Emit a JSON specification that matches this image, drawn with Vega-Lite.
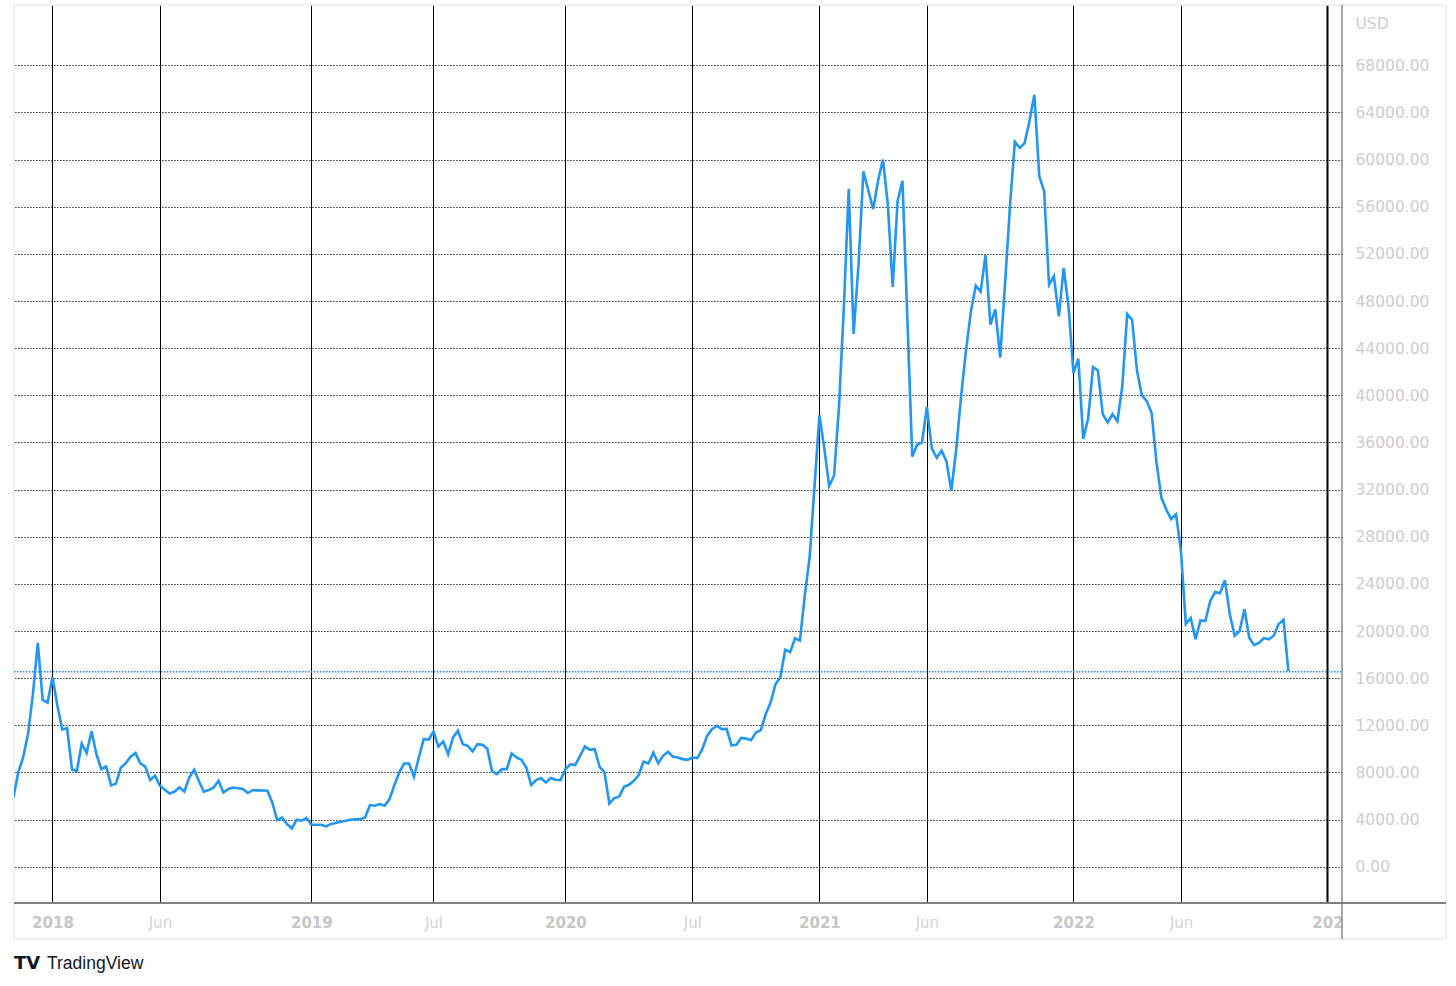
{
 "$schema": "https://vega.github.io/schema/vega-lite/v6.json",
 "width": 1328,
 "height": 898,
 "padding": {"left": 13, "top": 4, "right": 0, "bottom": 0},
 "background": "#ffffff",
 "config": {"view": {"stroke": null}},
 "data": {"values": [{"k": 1}]},
 "datasets": {
  "btc": [
   {"d":"2017-11-06","p":5850},{"d":"2017-11-13","p":8000},{"d":"2017-11-20","p":9270},{"d":"2017-11-27","p":11250},
   {"d":"2017-12-04","p":14640},{"d":"2017-12-11","p":19000},{"d":"2017-12-18","p":14160},{"d":"2017-12-25","p":13930},
   {"d":"2018-01-01","p":16100},{"d":"2018-01-08","p":13700},{"d":"2018-01-15","p":11650},{"d":"2018-01-22","p":11750},{"d":"2018-01-29","p":8250},
   {"d":"2018-02-05","p":8120},{"d":"2018-02-12","p":10450},{"d":"2018-02-19","p":9650},{"d":"2018-02-26","p":11500},
   {"d":"2018-03-05","p":9550},{"d":"2018-03-12","p":8280},{"d":"2018-03-19","p":8500},{"d":"2018-03-26","p":6900},
   {"d":"2018-04-02","p":7050},{"d":"2018-04-09","p":8400},{"d":"2018-04-16","p":8780},{"d":"2018-04-23","p":9330},{"d":"2018-04-30","p":9640},
   {"d":"2018-05-07","p":8760},{"d":"2018-05-14","p":8500},{"d":"2018-05-21","p":7350},{"d":"2018-05-28","p":7720},
   {"d":"2018-06-04","p":6870},{"d":"2018-06-11","p":6530},{"d":"2018-06-18","p":6210},{"d":"2018-06-25","p":6380},
   {"d":"2018-07-02","p":6720},{"d":"2018-07-09","p":6380},{"d":"2018-07-16","p":7570},{"d":"2018-07-23","p":8220},{"d":"2018-07-30","p":7250},
   {"d":"2018-08-06","p":6360},{"d":"2018-08-13","p":6500},{"d":"2018-08-20","p":6720},{"d":"2018-08-27","p":7290},
   {"d":"2018-09-03","p":6300},{"d":"2018-09-10","p":6590},{"d":"2018-09-17","p":6720},{"d":"2018-09-24","p":6660},
   {"d":"2018-10-01","p":6590},{"d":"2018-10-08","p":6250},{"d":"2018-10-15","p":6490},{"d":"2018-10-22","p":6480},{"d":"2018-10-29","p":6470},
   {"d":"2018-11-05","p":6450},{"d":"2018-11-12","p":5450},{"d":"2018-11-19","p":3950},{"d":"2018-11-26","p":4170},
   {"d":"2018-12-03","p":3620},{"d":"2018-12-10","p":3250},{"d":"2018-12-17","p":3990},{"d":"2018-12-24","p":3900},{"d":"2018-12-31","p":4130},
   {"d":"2019-01-07","p":3560},{"d":"2019-01-14","p":3560},{"d":"2019-01-21","p":3560},{"d":"2019-01-28","p":3420},
   {"d":"2019-02-04","p":3620},{"d":"2019-02-11","p":3700},{"d":"2019-02-18","p":3820},{"d":"2019-02-25","p":3900},
   {"d":"2019-03-04","p":3990},{"d":"2019-03-11","p":4030},{"d":"2019-03-18","p":4030},{"d":"2019-03-25","p":4170},
   {"d":"2019-04-01","p":5230},{"d":"2019-04-08","p":5170},{"d":"2019-04-15","p":5310},{"d":"2019-04-22","p":5170},{"d":"2019-04-29","p":5740},
   {"d":"2019-05-06","p":6930},{"d":"2019-05-13","p":8000},{"d":"2019-05-20","p":8760},{"d":"2019-05-27","p":8760},
   {"d":"2019-06-03","p":7630},{"d":"2019-06-10","p":9270},{"d":"2019-06-17","p":10830},{"d":"2019-06-24","p":10770},
   {"d":"2019-07-01","p":11470},{"d":"2019-07-08","p":10200},{"d":"2019-07-15","p":10620},{"d":"2019-07-22","p":9550},{"d":"2019-07-29","p":10970},
   {"d":"2019-08-05","p":11530},{"d":"2019-08-12","p":10400},{"d":"2019-08-19","p":10260},{"d":"2019-08-26","p":9780},
   {"d":"2019-09-02","p":10400},{"d":"2019-09-09","p":10340},{"d":"2019-09-16","p":10030},{"d":"2019-09-23","p":8080},{"d":"2019-09-30","p":7860},
   {"d":"2019-10-07","p":8280},{"d":"2019-10-14","p":8280},{"d":"2019-10-21","p":9600},{"d":"2019-10-28","p":9270},
   {"d":"2019-11-04","p":9070},{"d":"2019-11-11","p":8420},{"d":"2019-11-18","p":6930},{"d":"2019-11-25","p":7350},
   {"d":"2019-12-02","p":7520},{"d":"2019-12-09","p":7140},{"d":"2019-12-16","p":7520},{"d":"2019-12-23","p":7380},{"d":"2019-12-30","p":7350},
   {"d":"2020-01-06","p":8270},{"d":"2020-01-13","p":8690},{"d":"2020-01-20","p":8620},{"d":"2020-01-27","p":9410},
   {"d":"2020-02-03","p":10200},{"d":"2020-02-10","p":9920},{"d":"2020-02-17","p":9980},{"d":"2020-02-24","p":8480},
   {"d":"2020-03-02","p":8000},{"d":"2020-03-09","p":5360},{"d":"2020-03-16","p":5820},{"d":"2020-03-23","p":5940},{"d":"2020-03-30","p":6780},
   {"d":"2020-04-06","p":6950},{"d":"2020-04-13","p":7290},{"d":"2020-04-20","p":7770},{"d":"2020-04-27","p":8920},
   {"d":"2020-05-04","p":8760},{"d":"2020-05-11","p":9680},{"d":"2020-05-18","p":8780},{"d":"2020-05-25","p":9410},
   {"d":"2020-06-01","p":9750},{"d":"2020-06-08","p":9330},{"d":"2020-06-15","p":9270},{"d":"2020-06-22","p":9130},{"d":"2020-06-29","p":9070},
   {"d":"2020-07-06","p":9270},{"d":"2020-07-13","p":9210},{"d":"2020-07-20","p":9950},{"d":"2020-07-27","p":11100},
   {"d":"2020-08-03","p":11670},{"d":"2020-08-10","p":11950},{"d":"2020-08-17","p":11670},{"d":"2020-08-24","p":11690},{"d":"2020-08-31","p":10300},
   {"d":"2020-09-07","p":10340},{"d":"2020-09-14","p":10930},{"d":"2020-09-21","p":10870},{"d":"2020-09-28","p":10730},
   {"d":"2020-10-05","p":11390},{"d":"2020-10-12","p":11590},{"d":"2020-10-19","p":12950},{"d":"2020-10-26","p":13930},
   {"d":"2020-11-02","p":15480},{"d":"2020-11-09","p":16070},{"d":"2020-11-16","p":18410},{"d":"2020-11-23","p":18210},{"d":"2020-11-30","p":19380},
   {"d":"2020-12-07","p":19190},{"d":"2020-12-14","p":23000},{"d":"2020-12-21","p":26300},{"d":"2020-12-28","p":32300},
   {"d":"2021-01-04","p":38300},{"d":"2021-01-11","p":35500},{"d":"2021-01-18","p":32300},{"d":"2021-01-25","p":33200},
   {"d":"2021-02-01","p":39000},{"d":"2021-02-08","p":47500},{"d":"2021-02-15","p":57500},{"d":"2021-02-22","p":45200},
   {"d":"2021-03-01","p":51100},{"d":"2021-03-08","p":59000},{"d":"2021-03-15","p":57400},{"d":"2021-03-22","p":55800},{"d":"2021-03-29","p":58200},
   {"d":"2021-04-05","p":60000},{"d":"2021-04-12","p":56200},{"d":"2021-04-19","p":49200},{"d":"2021-04-26","p":56500},
   {"d":"2021-05-03","p":58200},{"d":"2021-05-10","p":46500},{"d":"2021-05-17","p":34800},{"d":"2021-05-24","p":35800},{"d":"2021-05-31","p":36000},
   {"d":"2021-06-07","p":39000},{"d":"2021-06-14","p":35500},{"d":"2021-06-21","p":34700},{"d":"2021-06-28","p":35300},
   {"d":"2021-07-05","p":34400},{"d":"2021-07-12","p":31900},{"d":"2021-07-19","p":35400},{"d":"2021-07-26","p":39900},
   {"d":"2021-08-02","p":43800},{"d":"2021-08-09","p":47100},{"d":"2021-08-16","p":49300},{"d":"2021-08-23","p":48800},{"d":"2021-08-30","p":51900},
   {"d":"2021-09-06","p":46000},{"d":"2021-09-13","p":47300},{"d":"2021-09-20","p":43200},{"d":"2021-09-27","p":49500},
   {"d":"2021-10-04","p":56000},{"d":"2021-10-11","p":61500},{"d":"2021-10-18","p":61000},{"d":"2021-10-25","p":61400},
   {"d":"2021-11-01","p":63300},{"d":"2021-11-08","p":65500},{"d":"2021-11-15","p":58600},{"d":"2021-11-22","p":57300},{"d":"2021-11-29","p":49400},
   {"d":"2021-12-06","p":50100},{"d":"2021-12-13","p":46700},{"d":"2021-12-20","p":50800},{"d":"2021-12-27","p":47500},
   {"d":"2022-01-03","p":41900},{"d":"2022-01-10","p":43100},{"d":"2022-01-17","p":36300},{"d":"2022-01-24","p":38000},{"d":"2022-01-31","p":42400},
   {"d":"2022-02-07","p":42100},{"d":"2022-02-14","p":38400},{"d":"2022-02-21","p":37700},{"d":"2022-02-28","p":38400},
   {"d":"2022-03-07","p":37800},{"d":"2022-03-14","p":40800},{"d":"2022-03-21","p":46900},{"d":"2022-03-28","p":46400},
   {"d":"2022-04-04","p":42100},{"d":"2022-04-11","p":40000},{"d":"2022-04-18","p":39500},{"d":"2022-04-25","p":38500},
   {"d":"2022-05-02","p":34300},{"d":"2022-05-09","p":31300},{"d":"2022-05-16","p":30300},{"d":"2022-05-23","p":29500},{"d":"2022-05-30","p":29900},
   {"d":"2022-06-06","p":26800},{"d":"2022-06-13","p":20600},{"d":"2022-06-20","p":21100},{"d":"2022-06-27","p":19300},
   {"d":"2022-07-04","p":20900},{"d":"2022-07-11","p":20850},{"d":"2022-07-18","p":22550},{"d":"2022-07-25","p":23300},
   {"d":"2022-08-01","p":23200},{"d":"2022-08-08","p":24300},{"d":"2022-08-15","p":21450},{"d":"2022-08-22","p":19600},{"d":"2022-08-29","p":20000},
   {"d":"2022-09-05","p":21850},{"d":"2022-09-12","p":19400},{"d":"2022-09-19","p":18800},{"d":"2022-09-26","p":19000},
   {"d":"2022-10-03","p":19400},{"d":"2022-10-10","p":19300},{"d":"2022-10-17","p":19600},{"d":"2022-10-24","p":20600},{"d":"2022-10-31","p":20950},
   {"d":"2022-11-07","p":16600}
  ]
 },
 "layer": [
  {
   "data": {"name": "btc"},
   "mark": {"type": "line", "color": "#2196F3", "strokeWidth": 2.5, "clip": true, "opacity": 0},
   "encoding": {
    "x": {
     "field": "d", "type": "temporal",
     "scale": {"type": "utc", "domain": [{"year": 2017, "month": 11, "date": 6, "hours": 22, "utc": true}, {"year": 2023, "month": 1, "date": 22, "hours": 19, "utc": true}]},
     "axis": {
      "orient": "bottom",
      "values": [
       {"year": 2018, "month": 1, "date": 1, "utc": true},
       {"year": 2018, "month": 6, "date": 4, "utc": true},
       {"year": 2019, "month": 1, "date": 7, "utc": true},
       {"year": 2019, "month": 7, "date": 1, "utc": true},
       {"year": 2020, "month": 1, "date": 6, "utc": true},
       {"year": 2020, "month": 7, "date": 6, "utc": true},
       {"year": 2021, "month": 1, "date": 4, "utc": true},
       {"year": 2021, "month": 6, "date": 7, "utc": true},
       {"year": 2022, "month": 1, "date": 3, "utc": true},
       {"year": 2022, "month": 6, "date": 6, "utc": true},
       {"year": 2023, "month": 1, "date": 2, "utc": true}
      ],
      "labelExpr": "utcyear(datum.value) == 2023 ? '202' : (utcmonth(datum.value) == 0 ? utcFormat(datum.value, '%Y') : utcFormat(datum.value, '%b'))",
      "labelFont": "DejaVu Sans",
      "labelFontSize": 15,
      "labelFontWeight": {"condition": {"test": "utcmonth(datum.value) == 0", "value": "bold"}, "value": "normal"},
      "labelColor": {"condition": {"test": "utcmonth(datum.value) == 0", "value": "#c6c6c6"}, "value": "#d3d3d3"},
      "labelBaseline": "middle",
      "labelPadding": 19,
      "labelOverlap": false,
      "labelFlush": false,
      "ticks": false,
      "tickSize": 0,
      "domain": false,
      "grid": true,
      "gridColor": "#000000",
      "gridWidth": {"condition": {"test": "utcyear(datum.value) == 2023", "value": 2}, "value": 1},
      "title": null
     }
    },
    "y": {
     "field": "p", "type": "quantitative",
     "scale": {"domain": [-3080, 73119], "nice": false, "zero": false},
     "axis": {
      "orient": "right",
      "values": [0, 4000, 8000, 12000, 16000, 20000, 24000, 28000, 32000, 36000, 40000, 44000, 48000, 52000, 56000, 60000, 64000, 68000],
      "format": ".2f",
      "labelFont": "DejaVu Sans",
      "labelFontSize": 15.5,
      "labelColor": "#cdcdcd",
      "labelAlign": "left",
      "labelBaseline": "middle",
      "labelPadding": 13,
      "labelOverlap": false,
      "ticks": false,
      "tickSize": 0,
      "domain": false,
      "grid": true,
      "gridColor": "#000000",
      "gridDash": [1.2, 1.8],
      "gridWidth": 1.2,
      "title": "USD",
      "titleAngle": 0,
      "titleX": 13,
      "titleY": 18,
      "titleAlign": "left",
      "titleBaseline": "middle",
      "titleFont": "DejaVu Sans",
      "titleFontSize": 15.5,
      "titleFontWeight": "normal",
      "titleColor": "#cdcdcd"
     }
    }
   }
  },
  {
   "mark": {"type": "rect", "fill": null, "stroke": "#e3e3e3", "strokeWidth": 1, "clip": false},
   "encoding": {
    "x": {"datum": {"year": 2017, "month": 11, "date": 6, "hours": 22, "utc": true}, "type": "temporal", "scale": {"type": "utc", "domain": [{"year": 2017, "month": 11, "date": 6, "hours": 22, "utc": true}, {"year": 2023, "month": 1, "date": 22, "hours": 19, "utc": true}]}},
    "x2": {"datum": {"year": 2023, "month": 6, "date": 20, "hours": 19, "utc": true}},
    "y": {"datum": -6135, "type": "quantitative", "scale": {"domain": [-3080, 73119], "nice": false, "zero": false}},
    "y2": {"datum": 73119}
   }
  },
  {
   "mark": {"type": "rule", "stroke": "#1E88E5", "strokeDash": [1.5, 1.5], "strokeWidth": 1.5, "opacity": 1, "clip": false},
   "encoding": {
    "x": {"datum": {"year": 2017, "month": 11, "date": 6, "hours": 22, "utc": true}, "type": "temporal", "scale": {"type": "utc", "domain": [{"year": 2017, "month": 11, "date": 6, "hours": 22, "utc": true}, {"year": 2023, "month": 1, "date": 22, "hours": 19, "utc": true}]}},
    "x2": {"datum": {"year": 2023, "month": 1, "date": 22, "hours": 19, "utc": true}},
    "y": {"datum": 16550, "type": "quantitative", "scale": {"domain": [-3080, 73119], "nice": false, "zero": false}}
   }
  },
  {
   "data": {"name": "btc"},
   "mark": {"type": "line", "color": "#2196F3", "strokeWidth": 2.6, "clip": true},
   "encoding": {
    "x": {"field": "d", "type": "temporal", "scale": {"type": "utc", "domain": [{"year": 2017, "month": 11, "date": 6, "hours": 22, "utc": true}, {"year": 2023, "month": 1, "date": 22, "hours": 19, "utc": true}]}},
    "y": {"field": "p", "type": "quantitative", "scale": {"domain": [-3080, 73119], "nice": false, "zero": false}}
   }
  },
  {
   "mark": {"type": "rule", "color": "#8c8c8c", "strokeWidth": 1.5, "clip": false},
   "encoding": {
    "x": {"datum": {"year": 2023, "month": 1, "date": 22, "hours": 19, "utc": true}, "type": "temporal", "scale": {"type": "utc", "domain": [{"year": 2017, "month": 11, "date": 6, "hours": 22, "utc": true}, {"year": 2023, "month": 1, "date": 22, "hours": 19, "utc": true}]}},
    "y": {"datum": -6135, "type": "quantitative", "scale": {"domain": [-3080, 73119], "nice": false, "zero": false}},
    "y2": {"datum": 73119}
   }
  },
  {
   "mark": {"type": "rule", "color": "#808080", "strokeWidth": 2, "clip": false},
   "encoding": {
    "x": {"datum": {"year": 2017, "month": 11, "date": 6, "hours": 22, "utc": true}, "type": "temporal", "scale": {"type": "utc", "domain": [{"year": 2017, "month": 11, "date": 6, "hours": 22, "utc": true}, {"year": 2023, "month": 1, "date": 22, "hours": 19, "utc": true}]}},
    "x2": {"datum": {"year": 2023, "month": 6, "date": 20, "hours": 19, "utc": true}},
    "y": {"datum": -3080, "type": "quantitative", "scale": {"domain": [-3080, 73119], "nice": false, "zero": false}}
   }
  },
  {
   "mark": {"type": "text", "text": "TV", "font": "DejaVu Sans", "fontWeight": "bold", "fontSize": 18, "align": "left", "baseline": "alphabetic", "color": "#131722", "clip": false},
   "encoding": {
    "x": {"datum": {"year": 2017, "month": 11, "date": 6, "hours": 22, "utc": true}, "type": "temporal", "scale": {"type": "utc", "domain": [{"year": 2017, "month": 11, "date": 6, "hours": 22, "utc": true}, {"year": 2023, "month": 1, "date": 22, "hours": 19, "utc": true}]}},
    "y": {"datum": -8681, "type": "quantitative", "scale": {"domain": [-3080, 73119], "nice": false, "zero": false}}
   }
  },
  {
   "mark": {"type": "text", "text": "TradingView", "font": "Liberation Sans", "fontSize": 17.5, "align": "left", "baseline": "alphabetic", "color": "#131722", "clip": false},
   "encoding": {
    "x": {"datum": {"year": 2017, "month": 12, "date": 24, "hours": 5, "utc": true}, "type": "temporal", "scale": {"type": "utc", "domain": [{"year": 2017, "month": 11, "date": 6, "hours": 22, "utc": true}, {"year": 2023, "month": 1, "date": 22, "hours": 19, "utc": true}]}},
    "y": {"datum": -8681, "type": "quantitative", "scale": {"domain": [-3080, 73119], "nice": false, "zero": false}}
   }
  }
 ]
}
